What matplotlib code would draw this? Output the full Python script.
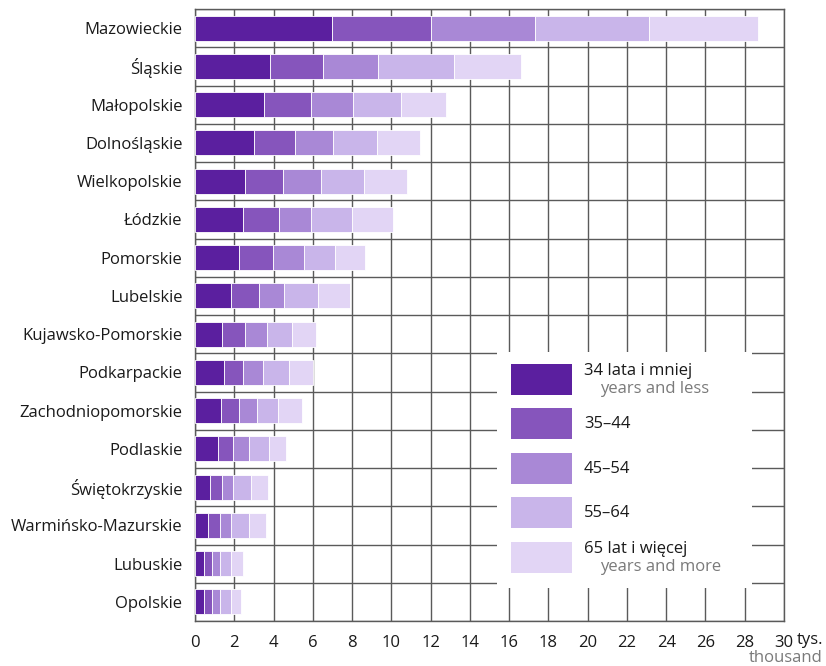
import matplotlib
matplotlib.use("Agg")
import matplotlib.pyplot as plt
from matplotlib.patches import Rectangle
from matplotlib.ticker import MultipleLocator

plt.rcParams['font.family'] = ['Open Sans', 'DejaVu Sans']

regions = ["Mazowieckie", "Śląskie", "Małopolskie", "Dolnośląskie", "Wielkopolskie",
           "Łódzkie", "Pomorskie", "Lubelskie", "Kujawsko-Pomorskie", "Podkarpackie",
           "Zachodniopomorskie", "Podlaskie", "Świętokrzyskie", "Warmińsko-Mazurskie",
           "Lubuskie", "Opolskie"]

# thousands of persons by age group
age_34_less = [7.0, 3.8, 3.5, 3.0, 2.55, 2.45, 2.25, 1.85, 1.35, 1.5, 1.3, 1.15, 0.75, 0.65, 0.45, 0.45]
age_35_44 = [5.0, 2.7, 2.4, 2.1, 1.95, 1.85, 1.7, 1.4, 1.2, 0.95, 0.95, 0.8, 0.6, 0.6, 0.4, 0.4]
age_45_54 = [5.3, 2.8, 2.15, 1.95, 1.9, 1.6, 1.6, 1.3, 1.1, 1.0, 0.9, 0.8, 0.6, 0.6, 0.4, 0.4]
age_55_64 = [5.8, 3.9, 2.45, 2.2, 2.2, 2.1, 1.6, 1.7, 1.3, 1.35, 1.1, 1.0, 0.9, 0.9, 0.6, 0.6]
age_65_more = [5.6, 3.4, 2.3, 2.2, 2.2, 2.1, 1.5, 1.65, 1.2, 1.2, 1.2, 0.9, 0.85, 0.85, 0.6, 0.5]

series = [age_34_less, age_35_44, age_45_54, age_55_64, age_65_more]
colors = ["#5b1f9f", "#8655bc", "#a988d6", "#c9b5ea", "#e2d5f5"]
legend_main = ["34 lata i mniej", "35–44", "45–54", "55–64", "65 lat i więcej"]
legend_sub = ["years and less", "", "", "", "years and more"]
x_ticks = list(range(0, 31, 2))

W, H = 826, 666
fig = plt.figure(figsize=(W / 100, H / 100), dpi=100)
ax = fig.add_axes([195 / W, 1 - 621 / H, 589 / W, 612 / H])

grid_col = "#5a5a5a"
fs = 12
y = list(range(len(regions)))
left = [0.0] * len(regions)
for vals, col in zip(series, colors):
    ax.barh(y, vals, left=left, height=0.66, color=col, edgecolor="white",
            linewidth=0.6, zorder=3)
    left = [a + b for a, b in zip(left, vals)]

ax.set_xlim(0, 30)
ax.set_ylim(len(regions) - 0.5, -0.5)
ax.set_yticks(y)
ax.set_yticklabels(regions, fontsize=fs, color="#1a1a1a")
ax.set_xticks(x_ticks)
ax.set_xticklabels([str(t) for t in x_ticks], fontsize=fs, color="#1a1a1a")
ax.yaxis.set_minor_locator(MultipleLocator(1, offset=0.5))
ax.tick_params(axis="both", which="both", length=0)
ax.tick_params(axis="x", pad=10)
ax.tick_params(axis="y", pad=9)
ax.grid(axis="x", which="major", color=grid_col, linewidth=1.0, zorder=1)
ax.grid(axis="y", which="minor", color=grid_col, linewidth=1.0, zorder=1)
ax.set_axisbelow(True)
for s in ax.spines.values():
    s.set_color(grid_col)
    s.set_linewidth(1.0)

# unit label next to the last tick
fig.text(797 / W, 1 - 640 / H, "tys.", ha="left", va="center",
         fontsize=fs, color="#1a1a1a")
fig.text(823 / W, 1 - 658 / H, "thousand", ha="right", va="center",
         fontsize=fs, color="#7a7a7a")

# legend panel
lg = fig.add_axes([497 / W, 1 - 588 / H, 255 / W, 236 / H])
lg.set_xlim(0, 255)
lg.set_ylim(236, 0)
lg.axis("off")
lg.add_patch(Rectangle((0, 0), 255, 236, facecolor="white", edgecolor="none", zorder=0))
patch_tops = [12, 56, 101, 145, 190]
for top, col, main, sub in zip(patch_tops, colors, legend_main, legend_sub):
    lg.add_patch(Rectangle((14, top), 61, 31, facecolor=col, edgecolor="none"))
    if sub:
        lg.text(87, top + 7, main, fontsize=fs, color="#1a1a1a", va="center")
        lg.text(103, top + 25, sub, fontsize=fs, color="#7a7a7a", va="center")
    else:
        lg.text(87, top + 16, main, fontsize=fs, color="#1a1a1a", va="center")

fig.savefig("out.png", dpi=100)
